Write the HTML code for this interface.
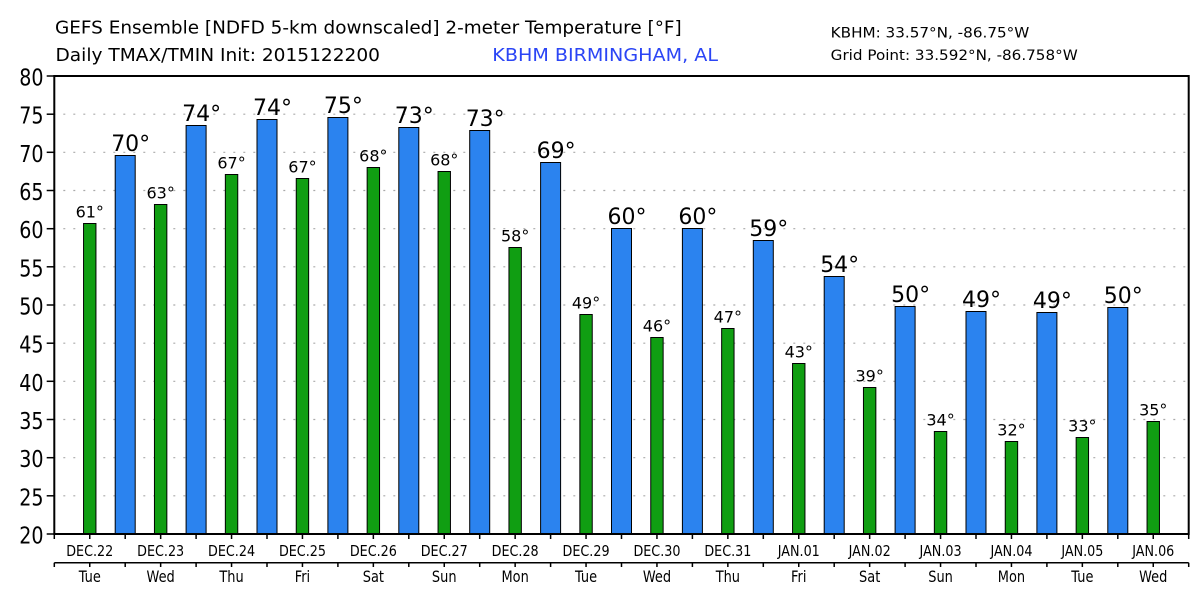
<!DOCTYPE html>
<html><head><meta charset="utf-8"><style>
html,body{margin:0;padding:0;background:#fff;}
svg{display:block;}
text{font-family:"DejaVu Sans","Liberation Sans",sans-serif;fill:#000;}
</style></head><body>
<svg width="1200" height="600" viewBox="0 0 1200 600" xmlns="http://www.w3.org/2000/svg">
<rect width="1200" height="600" fill="#fff"/>
<!-- titles -->
<text x="55" y="33.3" font-size="18" textLength="626.7" lengthAdjust="spacingAndGlyphs">GEFS Ensemble [NDFD 5-km downscaled] 2-meter Temperature [°F]</text>
<text x="55.5" y="61" font-size="18" textLength="324.5" lengthAdjust="spacingAndGlyphs">Daily TMAX/TMIN Init: 2015122200</text>
<text x="492.3" y="61" font-size="18" textLength="225.7" lengthAdjust="spacingAndGlyphs" style="fill:#2b45f5">KBHM BIRMINGHAM, AL</text>
<text x="830.7" y="37.7" font-size="14" textLength="198.6" lengthAdjust="spacingAndGlyphs">KBHM: 33.57°N, -86.75°W</text>
<text x="830.7" y="60" font-size="14" textLength="247" lengthAdjust="spacingAndGlyphs">Grid Point: 33.592°N, -86.758°W</text>

<!-- gridlines -->
<g stroke="#aaa" stroke-width="1.2" stroke-dasharray="2 8">
<line x1="53.3" x2="1188" y1="114.2" y2="114.2"/>
<line x1="53.3" x2="1188" y1="152.3" y2="152.3"/>
<line x1="53.3" x2="1188" y1="190.5" y2="190.5"/>
<line x1="53.3" x2="1188" y1="228.7" y2="228.7"/>
<line x1="53.3" x2="1188" y1="266.8" y2="266.8"/>
<line x1="53.3" x2="1188" y1="305" y2="305"/>
<line x1="53.3" x2="1188" y1="343.2" y2="343.2"/>
<line x1="53.3" x2="1188" y1="381.3" y2="381.3"/>
<line x1="53.3" x2="1188" y1="419.5" y2="419.5"/>
<line x1="53.3" x2="1188" y1="457.7" y2="457.7"/>
<line x1="53.3" x2="1188" y1="495.8" y2="495.8"/>
</g>

<!-- blue (max) bars -->
<g fill="#2b83ef" stroke="#000" stroke-width="1">
<rect x="115.2" y="155.5" width="20" height="378.5"/>
<rect x="186.1" y="125.5" width="20" height="408.5"/>
<rect x="257.0" y="119.5" width="20" height="414.5"/>
<rect x="327.9" y="117.5" width="20" height="416.5"/>
<rect x="398.8" y="127.5" width="20" height="406.5"/>
<rect x="469.7" y="130.5" width="20" height="403.5"/>
<rect x="540.6" y="162.5" width="20" height="371.5"/>
<rect x="611.5" y="228.5" width="20" height="305.5"/>
<rect x="682.4" y="228.5" width="20" height="305.5"/>
<rect x="753.3" y="240.5" width="20" height="293.5"/>
<rect x="824.2" y="276.5" width="20" height="257.5"/>
<rect x="895.1" y="306.5" width="20" height="227.5"/>
<rect x="966.0" y="311.5" width="20" height="222.5"/>
<rect x="1036.9" y="312.5" width="20" height="221.5"/>
<rect x="1107.8" y="307.5" width="20" height="226.5"/>
</g>

<!-- green (min) bars -->
<g fill="#109e12" stroke="#000" stroke-width="1">
<rect x="83.55" y="223.5" width="12.4" height="310.5"/>
<rect x="154.45" y="204.5" width="12.4" height="329.5"/>
<rect x="225.35" y="174.5" width="12.4" height="359.5"/>
<rect x="296.25" y="178.5" width="12.4" height="355.5"/>
<rect x="367.15" y="167.5" width="12.4" height="366.5"/>
<rect x="438.05" y="171.5" width="12.4" height="362.5"/>
<rect x="508.95" y="247.5" width="12.4" height="286.5"/>
<rect x="579.85" y="314.5" width="12.4" height="219.5"/>
<rect x="650.75" y="337.5" width="12.4" height="196.5"/>
<rect x="721.65" y="328.5" width="12.4" height="205.5"/>
<rect x="792.55" y="363.5" width="12.4" height="170.5"/>
<rect x="863.45" y="387.5" width="12.4" height="146.5"/>
<rect x="934.35" y="431.5" width="12.4" height="102.5"/>
<rect x="1005.25" y="441.5" width="12.4" height="92.5"/>
<rect x="1076.15" y="437.5" width="12.4" height="96.5"/>
<rect x="1147.05" y="421.5" width="12.4" height="112.5"/>
</g>

<!-- max labels -->
<g font-size="22" text-anchor="middle">
<text x="130.7" y="151">70°</text>
<text x="201.6" y="121">74°</text>
<text x="272.5" y="115">74°</text>
<text x="343.4" y="113">75°</text>
<text x="414.3" y="123">73°</text>
<text x="485.2" y="126">73°</text>
<text x="556.1" y="158">69°</text>
<text x="627.0" y="224">60°</text>
<text x="697.9" y="224">60°</text>
<text x="768.8" y="236">59°</text>
<text x="839.7" y="272">54°</text>
<text x="910.6" y="302">50°</text>
<text x="981.5" y="307">49°</text>
<text x="1052.4" y="308">49°</text>
<text x="1123.3" y="303">50°</text>
</g>

<!-- min labels -->
<g font-size="16" text-anchor="middle">
<text x="89.75" y="217.5">61°</text>
<text x="160.65" y="198.5">63°</text>
<text x="231.55" y="168.5">67°</text>
<text x="302.45" y="172.5">67°</text>
<text x="373.35" y="161.5">68°</text>
<text x="444.25" y="165.5">68°</text>
<text x="515.15" y="241.5">58°</text>
<text x="586.05" y="308.5">49°</text>
<text x="656.95" y="331.5">46°</text>
<text x="727.85" y="322.5">47°</text>
<text x="798.75" y="357.5">43°</text>
<text x="869.65" y="381.5">39°</text>
<text x="940.55" y="425.5">34°</text>
<text x="1011.45" y="435.5">32°</text>
<text x="1082.35" y="431.5">33°</text>
<text x="1153.25" y="415.5">35°</text>
</g>

<!-- frame -->
<rect x="54.3" y="76" width="1134.4" height="458" fill="none" stroke="#000" stroke-width="2"/>

<!-- y ticks -->
<g stroke="#000" stroke-width="1.5">
<line x1="46.7" x2="54.3" y1="76" y2="76"/>
<line x1="46.7" x2="54.3" y1="114.2" y2="114.2"/>
<line x1="46.7" x2="54.3" y1="152.3" y2="152.3"/>
<line x1="46.7" x2="54.3" y1="190.5" y2="190.5"/>
<line x1="46.7" x2="54.3" y1="228.7" y2="228.7"/>
<line x1="46.7" x2="54.3" y1="266.8" y2="266.8"/>
<line x1="46.7" x2="54.3" y1="305" y2="305"/>
<line x1="46.7" x2="54.3" y1="343.2" y2="343.2"/>
<line x1="46.7" x2="54.3" y1="381.3" y2="381.3"/>
<line x1="46.7" x2="54.3" y1="419.5" y2="419.5"/>
<line x1="46.7" x2="54.3" y1="457.7" y2="457.7"/>
<line x1="46.7" x2="54.3" y1="495.8" y2="495.8"/>
<line x1="46.7" x2="54.3" y1="534" y2="534"/>
</g>

<!-- y labels -->
<g font-size="23" text-anchor="end">
<text transform="translate(43.5,85.5) scale(0.83,1)">80</text>
<text transform="translate(43.5,123.7) scale(0.83,1)">75</text>
<text transform="translate(43.5,161.8) scale(0.83,1)">70</text>
<text transform="translate(43.5,200) scale(0.83,1)">65</text>
<text transform="translate(43.5,238.2) scale(0.83,1)">60</text>
<text transform="translate(43.5,276.3) scale(0.83,1)">55</text>
<text transform="translate(43.5,314.5) scale(0.83,1)">50</text>
<text transform="translate(43.5,352.7) scale(0.83,1)">45</text>
<text transform="translate(43.5,390.8) scale(0.83,1)">40</text>
<text transform="translate(43.5,429) scale(0.83,1)">35</text>
<text transform="translate(43.5,467.2) scale(0.83,1)">30</text>
<text transform="translate(43.5,505.3) scale(0.83,1)">25</text>
<text transform="translate(43.5,543.5) scale(0.83,1)">20</text>
</g>

<!-- x ticks -->
<path stroke="#000" stroke-width="1.5" fill="none" d="
M54.3 534V539 M89.75 534V539 M125.2 534V539 M160.65 534V539 M196.1 534V539 M231.55 534V539 M267 534V539 M302.45 534V539
M337.9 534V539 M373.35 534V539 M408.8 534V539 M444.25 534V539 M479.7 534V539 M515.15 534V539 M550.6 534V539 M586.05 534V539
M621.5 534V539 M656.95 534V539 M692.4 534V539 M727.85 534V539 M763.3 534V539 M798.75 534V539 M834.2 534V539 M869.65 534V539
M905.1 534V539 M940.55 534V539 M976 534V539 M1011.45 534V539 M1046.9 534V539 M1082.35 534V539 M1117.8 534V539 M1153.25 534V539 M1188.7 534V539
M54.3 562.7H1188.7
M54.3 562.7V567 M89.75 562.7V567 M125.2 562.7V567 M160.65 562.7V567 M196.1 562.7V567 M231.55 562.7V567 M267 562.7V567 M302.45 562.7V567
M337.9 562.7V567 M373.35 562.7V567 M408.8 562.7V567 M444.25 562.7V567 M479.7 562.7V567 M515.15 562.7V567 M550.6 562.7V567 M586.05 562.7V567
M621.5 562.7V567 M656.95 562.7V567 M692.4 562.7V567 M727.85 562.7V567 M763.3 562.7V567 M798.75 562.7V567 M834.2 562.7V567 M869.65 562.7V567
M905.1 562.7V567 M940.55 562.7V567 M976 562.7V567 M1011.45 562.7V567 M1046.9 562.7V567 M1082.35 562.7V567 M1117.8 562.7V567 M1153.25 562.7V567 M1188.7 562.7V567"/>

<!-- date labels -->
<g font-size="15" text-anchor="middle">
<text transform="translate(89.75,556) scale(0.85,1)">DEC.22</text>
<text transform="translate(160.65,556) scale(0.85,1)">DEC.23</text>
<text transform="translate(231.55,556) scale(0.85,1)">DEC.24</text>
<text transform="translate(302.45,556) scale(0.85,1)">DEC.25</text>
<text transform="translate(373.35,556) scale(0.85,1)">DEC.26</text>
<text transform="translate(444.25,556) scale(0.85,1)">DEC.27</text>
<text transform="translate(515.15,556) scale(0.85,1)">DEC.28</text>
<text transform="translate(586.05,556) scale(0.85,1)">DEC.29</text>
<text transform="translate(656.95,556) scale(0.85,1)">DEC.30</text>
<text transform="translate(727.85,556) scale(0.85,1)">DEC.31</text>
<text transform="translate(798.75,556) scale(0.85,1)">JAN.01</text>
<text transform="translate(869.65,556) scale(0.85,1)">JAN.02</text>
<text transform="translate(940.55,556) scale(0.85,1)">JAN.03</text>
<text transform="translate(1011.45,556) scale(0.85,1)">JAN.04</text>
<text transform="translate(1082.35,556) scale(0.85,1)">JAN.05</text>
<text transform="translate(1153.25,556) scale(0.85,1)">JAN.06</text>
</g>

<!-- weekday labels -->
<g font-size="16" text-anchor="middle">
<text transform="translate(89.75,582) scale(0.81,1)">Tue</text>
<text transform="translate(160.65,582) scale(0.81,1)">Wed</text>
<text transform="translate(231.55,582) scale(0.81,1)">Thu</text>
<text transform="translate(302.45,582) scale(0.81,1)">Fri</text>
<text transform="translate(373.35,582) scale(0.81,1)">Sat</text>
<text transform="translate(444.25,582) scale(0.81,1)">Sun</text>
<text transform="translate(515.15,582) scale(0.81,1)">Mon</text>
<text transform="translate(586.05,582) scale(0.81,1)">Tue</text>
<text transform="translate(656.95,582) scale(0.81,1)">Wed</text>
<text transform="translate(727.85,582) scale(0.81,1)">Thu</text>
<text transform="translate(798.75,582) scale(0.81,1)">Fri</text>
<text transform="translate(869.65,582) scale(0.81,1)">Sat</text>
<text transform="translate(940.55,582) scale(0.81,1)">Sun</text>
<text transform="translate(1011.45,582) scale(0.81,1)">Mon</text>
<text transform="translate(1082.35,582) scale(0.81,1)">Tue</text>
<text transform="translate(1153.25,582) scale(0.81,1)">Wed</text>
</g>
</svg>
</body></html>
